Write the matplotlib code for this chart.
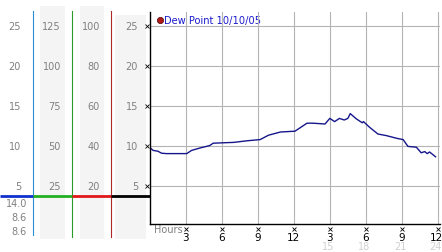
import matplotlib
matplotlib.use("Agg")
import matplotlib.pyplot as plt
from matplotlib.patches import Rectangle
from matplotlib.transforms import blended_transform_factory as blend

# ---------------- data ----------------
hours = [0.0, 0.3, 0.7, 1.0, 1.4, 2.2, 3.1, 3.5, 4.2, 5.0, 5.3, 6.1, 7.0, 8.1,
         9.2, 9.9, 10.9, 12.1, 13.1, 13.6, 14.6, 15.0, 15.4, 15.8, 16.2, 16.5,
         16.7, 17.2, 17.7, 17.8, 18.3, 19.0, 19.7, 20.6, 21.1, 21.5, 22.2,
         22.6, 22.9, 23.1, 23.3, 23.8]
dew_point = [9.8, 9.4, 9.3, 9.05, 9.0, 9.0, 9.0, 9.4, 9.7, 10.0, 10.3, 10.35,
             10.4, 10.6, 10.75, 11.3, 11.7, 11.8, 12.8, 12.8, 12.7, 13.4, 13.0,
             13.4, 13.2, 13.4, 14.0, 13.35, 12.85, 13.0, 12.3, 11.45, 11.25,
             10.9, 10.75, 9.9, 9.8, 9.1, 9.25, 9.0, 9.2, 8.6]

grid_levels = [5, 10, 15, 20, 25]
scale1_labels = ['5', '10', '15', '20', '25']
scale2_labels = ['25', '50', '75', '100', '125']
scale3_labels = ['20', '40', '60', '80', '100']
scale4_labels = ['5', '10', '15', '20', '25']
stats_labels = ['14.0', '8.6', '8.6']

x_ticks = [3, 6, 9, 12, 15, 18, 21, 24]
x_labels = ['3', '6', '9', '12', '3', '6', '9', '12']
x_ticks_24 = [15, 18, 21, 24]
x_labels_24 = ['15', '18', '21', '24']

legend_label = 'Dew Point 10/10/05'

# ---------------- figure ----------------
W, H = 442, 253
fig = plt.figure(figsize=(W / 100, H / 100), dpi=100)
fig.patch.set_facecolor('white')

bg = fig.add_axes([0, 0, 1, 1])
bg.set_xlim(0, W)
bg.set_ylim(H, 0)
bg.axis('off')

ax_l, ax_r, ax_t, ax_b = 149.5, 440, 13, 225
ax = fig.add_axes([ax_l / W, (H - ax_b) / H, (ax_r - ax_l) / W, (ax_b - ax_t) / H])
ax.set_xlim(0, 24 * (ax_r - ax_l) / (438 - ax_l))
ax.set_ylim(0.2, 26.7)
ax.set_facecolor('none')
ax.set_xticks(x_ticks)
ax.set_yticks(grid_levels)
ax.grid(True, color='#b4b4b4', lw=0.8)
ax.tick_params(length=0, labelbottom=False, labelleft=False)
for s in ['top', 'right']:
    ax.spines[s].set_visible(False)
for s in ['left', 'bottom']:
    ax.spines[s].set_color('black')
    ax.spines[s].set_linewidth(1.0)
ax.plot(hours, dew_point, color='#16168c', lw=1.0)

# shaded columns
shade = '#f4f4f4'
for x0, x1, y0 in [(40, 65, 7), (80, 104, 7), (115, 146, 16)]:
    bg.add_patch(Rectangle((x0, y0), x1 - x0, 240 - y0, color=shade, lw=0, zorder=0))

# vertical colored lines
bg.plot([33.3, 33.3], [12, 236], color='#2a8fcf', lw=0.8)
bg.plot([72.3, 72.3], [12, 238], color='#2a9a2a', lw=0.8)
bg.plot([111.2, 111.2], [12, 238], color='#b02828', lw=0.8)

# horizontal thick base line
for x0, x1, c in [(0, 33.3, '#1030d0'), (33.3, 72.3, '#22b022'),
                  (72.3, 111.2, '#e01818'), (111.2, 149.5, 'black')]:
    bg.plot([x0, x1], [197, 197], color=c, lw=2.0, solid_capstyle='butt')

# left scale labels (y tied to main axis data)
tr = blend(bg.transData, ax.transData)
grey = '#808080'
for xr, labs in [(21, scale1_labels), (61, scale2_labels),
                 (100, scale3_labels), (138, scale4_labels)]:
    for lev, lab in zip(grid_levels, labs):
        bg.text(xr, lev, lab, transform=tr, ha='right', va='center',
                fontsize=7, color=grey)
bg.plot([147] * len(grid_levels), grid_levels, transform=tr, ls='none',
        marker='x', ms=2.2, mew=0.6, color='black')

# stats
for yy, lab in zip([204, 218, 232], stats_labels):
    bg.text(27, yy, lab, ha='right', va='center', fontsize=7, color=grey)

# x axis labels
trx = blend(ax.transData, bg.transData)
bg.plot(x_ticks, [230] * len(x_ticks), transform=trx, ls='none',
        marker='x', ms=2.2, mew=0.6, color='black')
for i, (xt, lab) in enumerate(zip(x_ticks, x_labels)):
    last = i == len(x_ticks) - 1
    bg.text(xt - (0.12 if last else 0), 238.5, lab, transform=trx,
            ha='center', va='center', fontsize=7.5, color='black')
for i, (xt, lab) in enumerate(zip(x_ticks_24, x_labels_24)):
    last = i == len(x_ticks_24) - 1
    bg.text(xt - (0.25 if last else 0.15), 247, lab, transform=trx,
            ha='center', va='center', fontsize=7, color='#d0d0d0')
bg.text(154, 230, 'Hours', ha='left', va='center', fontsize=7, color=grey)

# legend
bg.plot([160], [20.5], 'o', ms=4.5, mfc='#b01818', mec='#500000', mew=0.5)
bg.text(164, 20.5, legend_label, ha='left', va='center', fontsize=7.1,
        color='#1a1acc')

fig.savefig('out.png', dpi=100)
